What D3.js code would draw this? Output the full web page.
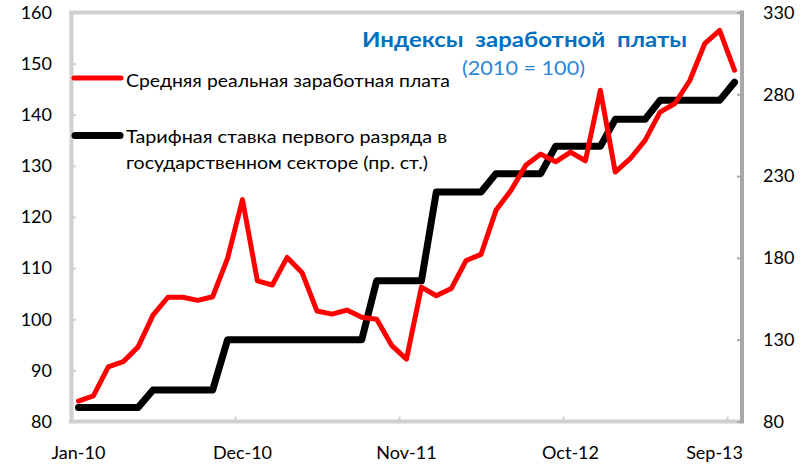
<!DOCTYPE html>
<html>
<head>
<meta charset="utf-8">
<script src="https://cdn.jsdelivr.net/npm/d3@7"></script>
<style>
  html, body { margin: 0; padding: 0; background: #fff; }
  svg { display: block; }
  text { font-family: Lato, "Noto Sans", sans-serif; fill: #000; }
</style>
</head>
<body>
<svg id="chart" width="803" height="466"></svg>
<script>
// ---- data ----
const months = [
  "Jan-10","Feb-10","Mar-10","Apr-10","May-10","Jun-10","Jul-10","Aug-10","Sep-10","Oct-10","Nov-10","Dec-10",
  "Jan-11","Feb-11","Mar-11","Apr-11","May-11","Jun-11","Jul-11","Aug-11","Sep-11","Oct-11","Nov-11","Dec-11",
  "Jan-12","Feb-12","Mar-12","Apr-12","May-12","Jun-12","Jul-12","Aug-12","Sep-12","Oct-12","Nov-12","Dec-12",
  "Jan-13","Feb-13","Mar-13","Apr-13","May-13","Jun-13","Jul-13","Aug-13","Sep-13"
];
// Средняя реальная заработная плата (left axis)
const realWage = [
  84.0, 85.0, 90.7, 91.7, 94.6, 100.8, 104.3, 104.3, 103.7, 104.4, 111.9, 123.4,
  107.5, 106.7, 112.1, 109.1, 101.6, 101.0, 101.8, 100.4, 100.0, 94.9, 92.2, 106.3,
  104.6, 106.0, 111.5, 112.7, 121.3, 125.2, 130.1, 132.3, 130.8, 132.7, 131.0, 144.8,
  128.8, 131.4, 135.0, 140.5, 142.2, 146.7, 153.9, 156.5, 148.7
];
// Тарифная ставка первого разряда в государственном секторе (right axis)
const tariffRate = [
  88.5, 88.5, 88.5, 88.5, 88.5, 99.2, 99.2, 99.2, 99.2, 99.2, 130, 130,
  130, 130, 130, 130, 130, 130, 130, 130, 166, 166, 166, 166,
  220.3, 220.3, 220.3, 220.3, 231.5, 231.5, 231.5, 231.5, 248.2, 248.2, 248.2, 248.2,
  264.7, 264.7, 264.7, 276.3, 276.3, 276.3, 276.3, 276.3, 287.4
];
const leftTicks = [80, 90, 100, 110, 120, 130, 140, 150, 160];
const rightTicks = [80, 130, 180, 230, 280, 330];
const xTickLabels = ["Jan-10", "Dec-10", "Nov-11", "Oct-12", "Sep-13"];
const seriesNames = ["Средняя реальная заработная плата",
                     ["Тарифная ставка первого разряда в", "государственном секторе (пр. ст.)"]];
const titleText = "Индексы  заработной  платы";
const subtitleText = "(2010 = 100)";

// ---- layout ----
const L = 71, R = 742, T = 12.5, B = 421.5;
const svg = d3.select("#chart");

const xBand = d3.scaleBand().domain(months).range([L, R]).padding(0);
const xc = m => xBand(m) + xBand.bandwidth() / 2;
const xEdge = d3.scaleLinear().domain([0, months.length]).range([L, R]);
const yL = d3.scaleLinear().domain([80, 160]).range([B, T]);
const yR = d3.scaleLinear().domain([80, 330]).range([B, T]);

const frameLight = "#d0d0d0", frameDark = "#a8a8a8";

// top frame line
svg.append("line").attr("x1", L - 2).attr("x2", R).attr("y1", T).attr("y2", T)
  .attr("stroke", frameLight).attr("stroke-width", 4);

// left axis
const gL = svg.append("g").attr("transform", `translate(${L},0)`)
  .call(d3.axisLeft(yL).tickValues(leftTicks).tickSize(-5).tickSizeOuter(0).tickPadding(19));
gL.select(".domain").attr("stroke", frameLight).attr("stroke-width", 4);
gL.selectAll(".tick line").attr("stroke", frameLight).attr("stroke-width", 2);
gL.selectAll(".tick text").attr("font-size", 18).attr("fill", "#111")
  .style("font-family", "Lato, 'Noto Sans', sans-serif");

// bottom axis (ticks on category edges)
const gB = svg.append("g").attr("transform", `translate(0,${B})`)
  .call(d3.axisBottom(xEdge).tickValues(xTickLabels.map(m => months.indexOf(m)).filter(i => i > 0))
    .tickSize(-5).tickSizeOuter(0).tickFormat(""));
gB.select(".domain").attr("stroke", frameLight).attr("stroke-width", 4)
  .attr("d", `M${L - 2},0H${R}`);
gB.selectAll(".tick line").attr("stroke", frameLight).attr("stroke-width", 2);

// bottom labels at category centers
svg.append("g").selectAll("text").data(xTickLabels).join("text")
  .attr("x", (d, i) => i === xTickLabels.length - 1 ? R + 1 : xc(d))
  .attr("y", 459)
  .attr("text-anchor", (d, i) => i === xTickLabels.length - 1 ? "end" : "middle")
  .attr("font-size", 18).attr("fill", "#111")
  .text(d => d);

// right axis
const gR = svg.append("g").attr("transform", `translate(${R},0)`)
  .call(d3.axisRight(yR).tickValues(rightTicks).tickSize(-5).tickSizeOuter(0).tickPadding(21));
gR.select(".domain").attr("stroke", frameDark).attr("stroke-width", 4)
  .attr("d", `M0,${T - 2}V${B + 2}`);
gR.selectAll(".tick line").attr("stroke", frameDark).attr("stroke-width", 2);
gR.selectAll(".tick text").attr("font-size", 18).attr("fill", "#111")
  .style("font-family", "Lato, 'Noto Sans', sans-serif");

// title
svg.append("text").attr("x", 362).attr("y", 47)
  .attr("font-size", 21).attr("font-weight", "bold")
  .style("fill", "#0070C0").style("white-space", "pre")
  .attr("textLength", 325).attr("lengthAdjust", "spacingAndGlyphs")
  .text(titleText);
svg.append("text").attr("x", 462).attr("y", 75)
  .attr("font-size", 19).style("fill", "#2a86d6")
  .attr("textLength", 123).attr("lengthAdjust", "spacingAndGlyphs")
  .text(subtitleText);

// lines
const lineR = d3.line().x((d, i) => xc(months[i])).y(d => yL(d));
const lineB = d3.line().x((d, i) => xc(months[i])).y(d => yR(d));

svg.append("path").datum(tariffRate).attr("d", lineB)
  .attr("fill", "none").attr("stroke", "#000").attr("stroke-width", 7)
  .attr("stroke-linejoin", "round").attr("stroke-linecap", "round");
svg.append("path").datum(realWage).attr("d", lineR)
  .attr("fill", "none").attr("stroke", "#ff0000").attr("stroke-width", 5)
  .attr("stroke-linejoin", "round").attr("stroke-linecap", "round");

// legend
svg.append("line").attr("x1", 74).attr("x2", 121).attr("y1", 78).attr("y2", 78)
  .attr("stroke", "#ff0000").attr("stroke-width", 5).attr("stroke-linecap", "round");
svg.append("text").attr("x", 126).attr("y", 87).attr("font-size", 18)
  .attr("textLength", 324).attr("lengthAdjust", "spacingAndGlyphs")
  .text(seriesNames[0]);
svg.append("line").attr("x1", 75).attr("x2", 120).attr("y1", 135.5).attr("y2", 135.5)
  .attr("stroke", "#000").attr("stroke-width", 7).attr("stroke-linecap", "round");
svg.append("text").attr("x", 126).attr("y", 143).attr("font-size", 18)
  .attr("textLength", 321).attr("lengthAdjust", "spacingAndGlyphs")
  .text(seriesNames[1][0]);
svg.append("text").attr("x", 126).attr("y", 168.5).attr("font-size", 18)
  .attr("textLength", 302).attr("lengthAdjust", "spacingAndGlyphs")
  .text(seriesNames[1][1]);
</script>
</body>
</html>
